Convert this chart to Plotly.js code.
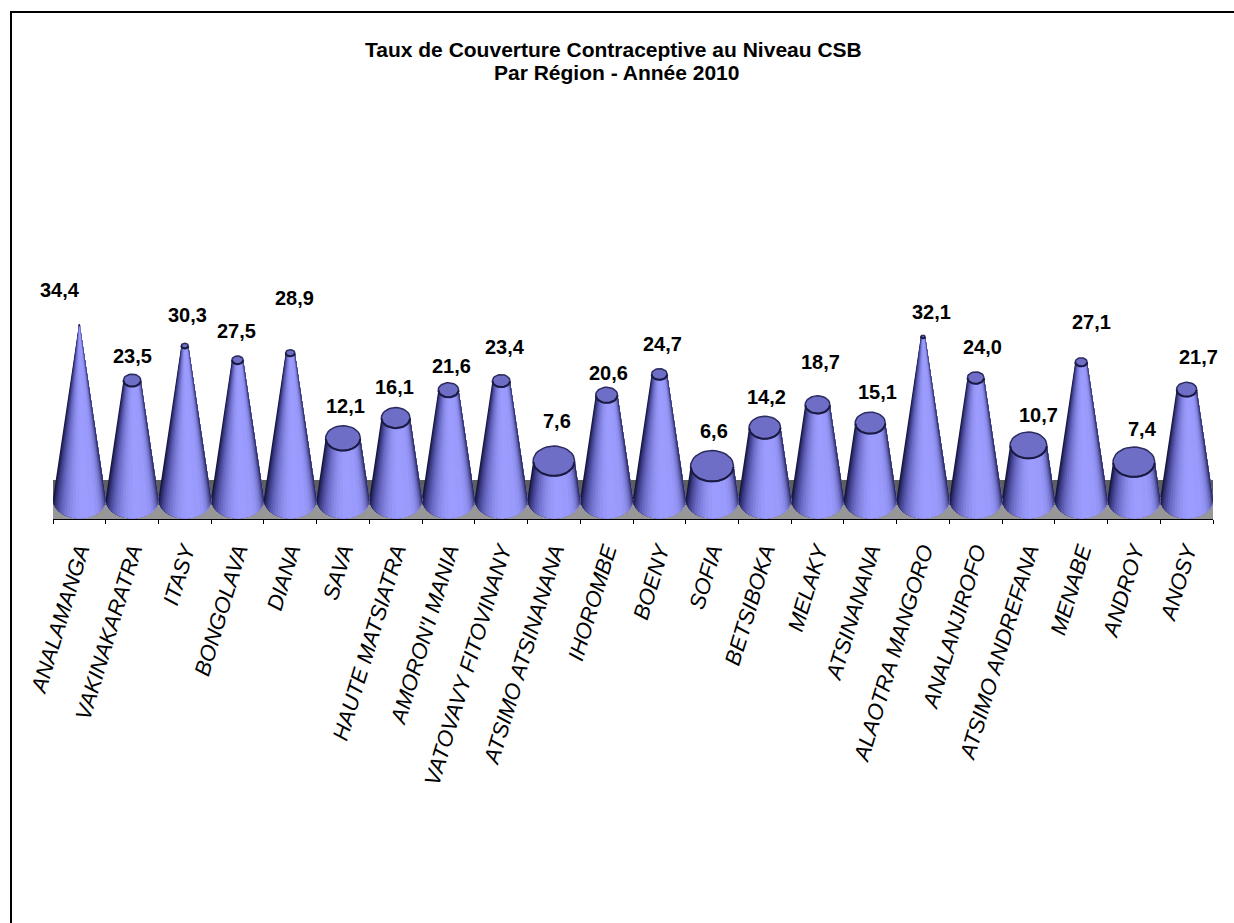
<!DOCTYPE html>
<html><head><meta charset="utf-8">
<script src="https://cdn.plot.ly/plotly-3.0.1.min.js"></script>
<style>html,body{margin:0;padding:0;background:#fff}#c{width:1234px;height:923px}</style>
</head><body><div id="c"></div>
<script>
const categories = ["ANALAMANGA","VAKINAKARATRA","ITASY","BONGOLAVA","DIANA","SAVA","HAUTE MATSIATRA","AMORON'I MANIA","VATOVAVY FITOVINANY","ATSIMO ATSINANANA","IHOROMBE","BOENY","SOFIA","BETSIBOKA","MELAKY","ATSINANANA","ALAOTRA MANGORO","ANALANJIROFO","ATSIMO ANDREFANA","MENABE","ANDROY","ANOSY"];
const values = [34.4,23.5,30.3,27.5,28.9,12.1,16.1,21.6,23.4,7.6,20.6,24.7,6.6,14.2,18.7,15.1,32.1,24.0,10.7,27.1,7.4,21.7];
const labelDx = [-19,0,3,-1,4,2,-1,3,4,3,2,3,2,2,3,7,8,7,10,10,9,12];
const labelDy = [35,24,31,29,55,32,31,24,34,40,22,30,35,31,43,31,25,31,30,40,33,32];
const bandStops = [-1,-0.97,-0.93,-0.88,-0.82,-0.75,-0.67,-0.58,-0.48,-0.38,-0.27,-0.15,0,0.35,0.6,0.72,0.8,0.86,0.91,0.95,0.98];
const bandColors = ["#16163e","#24245c","#323276","#40408c","#4e4ea0","#5c5cb2","#6a6ac4","#7676d2","#8080de","#8a8ae8","#9292f2","#9898fa","#9c9cff","#9a9afc","#9494f4","#8a8ae8","#7e7ed8","#6e6ec4","#5a5aa8","#444488","#2a2a60"];

const W=1234,H=923,L=53,R=1213,T=100,B=519,K=5.07,Y0=499.5,STEP=(R-L)/22;
const VMAX=35, RX=26.5/STEP, RY=19/K;
const yv=p=>(Y0-p)/K;
const px=p=>(p-L)/(R-L), py=p=>1-(p-T)/(B-T);

function arc(cx,yc,rx,ry,a0,a1,n){const xs=[],ys=[];for(let j=0;j<=n;j++){const a=a0+(a1-a0)*j/n;xs.push(cx+rx*Math.cos(a));ys.push(yc+ry*Math.sin(a));}return [xs,ys];}
const traces=[];
bandStops.forEach((u0,b)=>{
  const X=[],Y=[];
  values.forEach((v,i)=>{
    const t=(VMAX-v)/VMAX, start=Math.acos(u0), n=14;
    for(let j=0;j<=n;j++){const a=start*(1-j/n);X.push(i+RX*Math.cos(a));Y.push(-RY*Math.sin(a));}
    for(let j=n;j>=0;j--){const a=start*(1-j/n);X.push(i+RX*t*Math.cos(a));Y.push(v-RY*t*Math.sin(a));}
    X.push(X[X.length-2*n-2]);Y.push(Y[Y.length-2*n-2]);
    X.push(null);Y.push(null);
  });
  traces.push({type:'scatter',mode:'lines',x:X,y:Y,fill:'toself',fillcolor:bandColors[b],line:{width:0,color:bandColors[b]},hoverinfo:'skip',showlegend:false});
});
const tx=[],ty=[],fx=[],fy=[];
values.forEach((v,i)=>{
  const t=(VMAX-v)/VMAX;
  const [a,b]=arc(i,v,RX*t,RY*t,0,2*Math.PI,36);tx.push(...a,null);ty.push(...b,null);
  const [c,d]=arc(i,v,RX*t,RY*t,Math.PI*1.02,Math.PI*1.98,20);fx.push(...c,null);fy.push(...d,null);
});
traces.push({type:'scatter',mode:'lines',x:tx,y:ty,fill:'toself',fillcolor:'#6e6ec6',line:{width:1.5,color:'#2c2c60'},hoverinfo:'skip',showlegend:false});
traces.push({type:'scatter',mode:'lines',x:fx,y:fy,line:{width:2,color:'#1a1a42'},hoverinfo:'skip',showlegend:false});

const annotations=values.map((v,i)=>({x:i,y:v,xref:'x',yref:'y',text:v.toFixed(1).replace('.',','),showarrow:false,xshift:labelDx[i],yshift:labelDy[i],xanchor:'center',yanchor:'middle',font:{family:'Liberation Sans',size:20,color:'#000',weight:700}}));
annotations.push({xref:'paper',yref:'paper',x:px(613),y:py(49),text:'Taux de Couverture Contraceptive au Niveau CSB',showarrow:false,xanchor:'center',yanchor:'middle',font:{family:'Liberation Sans',size:21,color:'#000',weight:700}});
annotations.push({xref:'paper',yref:'paper',x:px(616),y:py(73),text:'Par Région - Année 2010',showarrow:false,xanchor:'center',yanchor:'middle',font:{family:'Liberation Sans',size:21,color:'#000',weight:700}});

const xMin=-0.5,xMax=21.5;
const shapes=[
 {type:'rect',xref:'x',yref:'y',x0:xMin,x1:xMax,y0:yv(505),y1:yv(480),fillcolor:'#5f5f5f',line:{width:0},layer:'below'},
 {type:'rect',xref:'x',yref:'y',x0:xMin,x1:xMax,y0:yv(519),y1:yv(505),fillcolor:'#979797',line:{width:0},layer:'below'},
 {type:'line',xref:'paper',yref:'paper',x0:px(10),x1:px(1234),y0:py(12),y1:py(12),line:{color:'#000',width:2}},
 {type:'line',xref:'paper',yref:'paper',x0:px(11),x1:px(11),y0:py(12),y1:py(923),line:{color:'#000',width:2}}
];
const layout={width:W,height:H,margin:{l:L,r:W-R,t:T,b:H-B,pad:0},paper_bgcolor:'#fff',plot_bgcolor:'#fff',showlegend:false,hovermode:false,
 xaxis:{range:[xMin,xMax],tickmode:'array',tickvals:categories.map((c,i)=>i),ticktext:categories,ticks:'',tickangle:-73,ticklabelstandoff:9,showgrid:false,zeroline:false,showline:true,linecolor:'#000',linewidth:1,
   tickfont:{family:'Liberation Sans',size:22,color:'#000',style:'italic'},
   minor:{tickmode:'array',tickvals:Array.from({length:23},(_,i)=>i-0.5),ticks:'outside',ticklen:4,tickwidth:1,tickcolor:'#000',showgrid:false}},
 yaxis:{range:[yv(B),yv(T)],visible:false,showgrid:false,zeroline:false},
 annotations,shapes};
Plotly.newPlot('c',traces,layout,{displayModeBar:false,staticPlot:true});
</script></body></html>
